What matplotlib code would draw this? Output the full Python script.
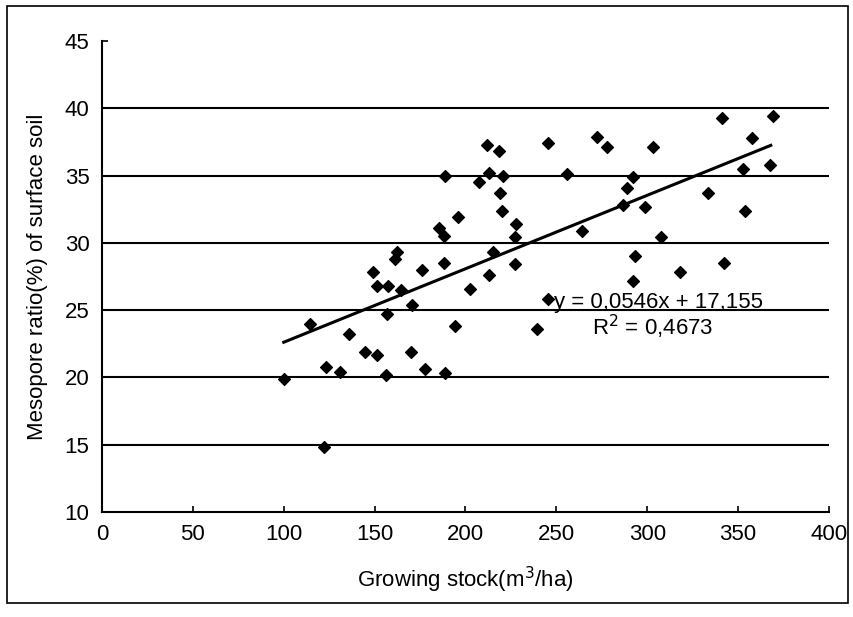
import matplotlib
matplotlib.use("Agg")
import matplotlib.pyplot as plt
from matplotlib.patches import Rectangle

plt.rcParams['font.family'] = ['Liberation Sans', 'DejaVu Sans']

# growing stock (m3/ha) and mesopore ratio (%)
stock = [100, 114.4, 122.3, 123.2, 130.9, 136, 144.7, 151.1, 156.1, 156.6,
         169.8, 177.6, 189, 170.7, 189, 185.7, 188, 162.5, 161.5, 149.3,
         176.2, 188, 151.1, 157.5, 164.3, 211.8, 218.2, 245.6, 272.6, 277.6,
         207.6, 213.1, 220.4, 255.7, 292.2, 288.6, 219.1, 220, 195.7, 227.9,
         286.7, 263.9, 227, 214.9, 227.3, 212.7, 202.7, 293.1, 292.2, 245.6,
         194.1, 239.6, 341.2, 369, 303.2, 357.6, 352.5, 367.5, 333.7, 298.6,
         354, 307.7, 317.8, 342]
meso = [19.9, 24.0, 14.8, 20.8, 20.4, 23.2, 21.9, 21.7, 20.2, 24.7,
        21.9, 20.6, 20.3, 25.4, 35.0, 31.1, 30.5, 29.3, 28.8, 27.8,
        28.0, 28.5, 26.8, 26.8, 26.5, 37.3, 36.8, 37.4, 37.9, 37.1,
        34.5, 35.2, 35.0, 35.1, 34.9, 34.1, 33.7, 32.4, 31.9, 31.4,
        32.8, 30.9, 30.4, 29.3, 28.4, 27.6, 26.6, 29.0, 27.2, 25.8,
        23.8, 23.6, 39.25, 39.4, 37.1, 37.8, 35.5, 35.8, 33.7, 32.7,
        32.4, 30.45, 27.8, 28.5]

slope = 0.0546
intercept = 17.155
fit_x = [100, 368]

fig = plt.figure(figsize=(8.54, 6.17), dpi=100)
ax = fig.add_axes([0.1194, 0.1702, 0.8513, 0.7633])

# outer frame around the whole chart
fig.patches.append(Rectangle((0.008, 0.022), 0.985, 0.969, transform=fig.transFigure,
                             fill=False, edgecolor='black', linewidth=1.2))

for yv in range(15, 45, 5):
    ax.axhline(yv, color='black', linewidth=1.5, zorder=1)

ax.scatter(stock, meso, marker='D', s=36, color='black', zorder=3)
ax.plot(fit_x, [slope * v + intercept for v in fit_x], color='black', linewidth=2.2, zorder=2)

ax.text(306, 25.6, 'y = 0,0546x + 17,155', fontsize=16, ha='center', va='center')
ax.text(303, 23.75, 'R$^2$ = 0,4673', fontsize=16, ha='center', va='center')

ax.set_xlim(0, 400)
ax.set_ylim(10, 45)
ax.set_xticks(range(0, 401, 50))
ax.set_yticks(range(10, 46, 5))
ax.tick_params(direction='in', length=4, width=1.2, labelsize=16, pad=9)
ax.spines['top'].set_visible(False)
ax.spines['right'].set_visible(False)
for s in ('left', 'bottom'):
    ax.spines[s].set_linewidth(1.5)

ax.set_xlabel('Growing stock(m$^3$/ha)', fontsize=16, labelpad=14)
ax.set_ylabel('Mesopore ratio(%) of surface soil', fontsize=16, labelpad=12)

fig.savefig('out.png', dpi=100)
